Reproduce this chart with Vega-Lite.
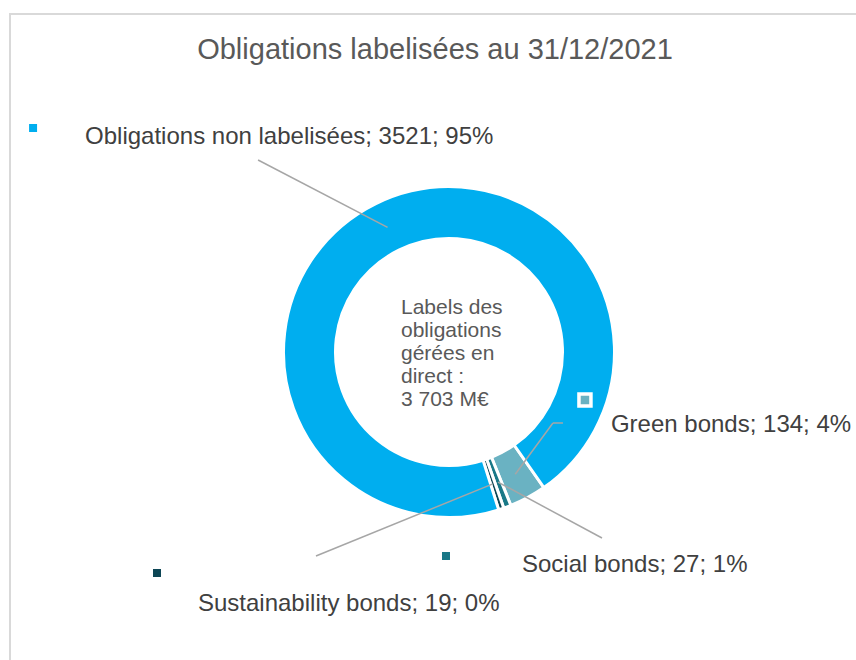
{
  "$schema": "https://vega.github.io/schema/vega-lite/v6.json",
  "width": 848,
  "height": 648,
  "autosize": {"type": "none"},
  "padding": {"left": 10, "top": 14, "right": -2, "bottom": -2},
  "background": "white",
  "title": {
    "text": "Obligations labelisées au 31/12/2021",
    "font": "Liberation Sans",
    "fontSize": 29,
    "fontWeight": "normal",
    "color": "#595959",
    "anchor": "middle",
    "offset": -51,
    "dx": 1
  },
  "config": {
    "view": {"stroke": "#D9D9D9", "strokeWidth": 2},
    "text": {"font": "Liberation Sans"}
  },
  "data": {
    "values": [
      {"nom": "Green bonds", "valeur": 134, "pct": 4, "rang": 1},
      {"nom": "Social bonds", "valeur": 27, "pct": 1, "rang": 2},
      {"nom": "Sustainability bonds", "valeur": 19, "pct": 0, "rang": 3},
      {"nom": "Obligations non labelisées", "valeur": 3521, "pct": 95, "rang": 4}
    ]
  },
  "transform": [
    {"joinaggregate": [{"op": "sum", "field": "valeur", "as": "total"}]},
    {"window": [{"op": "sum", "field": "valeur", "as": "cumul"}], "sort": [{"field": "rang"}], "frame": [null, 0]},
    {"calculate": "2.531 + 2*PI*(datum.cumul - datum.valeur/2)/datum.total", "as": "angle"},
    {"calculate": "139*sin(datum.angle)", "as": "ax"},
    {"calculate": "-139*cos(datum.angle)", "as": "ay"},
    {"calculate": "datum.nom + '; ' + datum.valeur + '; ' + datum.pct + '%'", "as": "etiquette"}
  ],
  "layer": [
    {
      "mark": {"type": "arc", "radius": 165.5, "innerRadius": 113.5, "stroke": "white", "strokeWidth": 3},
      "encoding": {
        "x": {"datum": 0, "type": "quantitative", "scale": {"domain": [-439, 409], "nice": false, "zero": false}, "axis": null},
        "y": {"datum": 0, "type": "quantitative", "scale": {"domain": [-338, 310], "nice": false, "zero": false, "reverse": true}, "axis": null},
        "theta": {"field": "valeur", "type": "quantitative", "stack": true, "scale": {"range": [2.531, 8.8142]}},
        "order": {"field": "rang", "type": "quantitative"},
        "color": {
          "field": "nom", "type": "nominal", "legend": null,
          "scale": {
            "domain": ["Green bonds", "Social bonds", "Sustainability bonds", "Obligations non labelisées"],
            "range": ["#6AB2C2", "#197887", "#0D4655", "#00AEEF"]
          }
        }
      }
    },
    {
      "data": {"values": [{"t": 1}]},
      "mark": {
        "type": "text",
        "text": ["Labels des", "obligations", "gérées en", "direct :", "3 703 M€"],
        "align": "left", "baseline": "middle", "dx": -48, "dy": -44,
        "fontSize": 21, "lineHeight": 23, "color": "#595959"
      },
      "encoding": {
        "x": {"datum": 0, "type": "quantitative", "scale": {"domain": [-439, 409], "nice": false, "zero": false}, "axis": null},
        "y": {"datum": 0, "type": "quantitative", "scale": {"domain": [-338, 310], "nice": false, "zero": false, "reverse": true}, "axis": null}
      }
    },
    {
      "transform": [
        {"filter": "datum.rang == 4"},
        {"calculate": "datum.ax - 129.5", "as": "ex"},
        {"calculate": "datum.ay - 67.3", "as": "ey"},
        {"calculate": "datum.ax - 302.5", "as": "tx"},
        {"calculate": "datum.ay - 90.3", "as": "ty"},
        {"calculate": "datum.ax - 354.5", "as": "kx"},
        {"calculate": "datum.ay - 99.3", "as": "ky"}
      ],
      "layer": [
        {
          "mark": {"type": "rule", "color": "#A6A6A6", "strokeWidth": 1.5},
          "encoding": {
            "x": {"field": "ax", "type": "quantitative", "scale": {"domain": [-439, 409], "nice": false, "zero": false}, "axis": null},
            "y": {"field": "ay", "type": "quantitative", "scale": {"domain": [-338, 310], "nice": false, "zero": false, "reverse": true}, "axis": null},
            "x2": {"field": "ex"},
            "y2": {"field": "ey"}
          }
        },
        {
          "mark": {"type": "point", "shape": "square", "filled": true, "size": 64, "opacity": 1},
          "encoding": {
            "x": {"field": "kx", "type": "quantitative", "scale": {"domain": [-439, 409], "nice": false, "zero": false}, "axis": null},
            "y": {"field": "ky", "type": "quantitative", "scale": {"domain": [-338, 310], "nice": false, "zero": false, "reverse": true}, "axis": null},
            "color": {"field": "nom", "type": "nominal", "legend": null, "scale": {"domain": ["Green bonds", "Social bonds", "Sustainability bonds", "Obligations non labelisées"], "range": ["#6AB2C2", "#197887", "#0D4655", "#00AEEF"]}}
          }
        },
        {
          "mark": {"type": "text", "align": "left", "baseline": "middle", "fontSize": 24, "color": "#404040"},
          "encoding": {
            "x": {"field": "tx", "type": "quantitative", "scale": {"domain": [-439, 409], "nice": false, "zero": false}, "axis": null},
            "y": {"field": "ty", "type": "quantitative", "scale": {"domain": [-338, 310], "nice": false, "zero": false, "reverse": true}, "axis": null},
            "text": {"field": "etiquette", "type": "nominal"}
          }
        }
      ]
    },
    {
      "transform": [
        {"filter": "datum.rang == 1"},
        {"calculate": "datum.ax + 37.7", "as": "bx"},
        {"calculate": "datum.ay - 51.2", "as": "by"},
        {"calculate": "datum.ax + 47.7", "as": "ex"},
        {"calculate": "datum.ax + 95.7", "as": "tx"},
        {"calculate": "datum.ay - 49.2", "as": "ty"},
        {"calculate": "datum.ax + 69.7", "as": "kx"},
        {"calculate": "datum.ay - 74.2", "as": "ky"}
      ],
      "layer": [
        {
          "mark": {"type": "rule", "color": "#A6A6A6", "strokeWidth": 1.5},
          "encoding": {
            "x": {"field": "ax", "type": "quantitative", "scale": {"domain": [-439, 409], "nice": false, "zero": false}, "axis": null},
            "y": {"field": "ay", "type": "quantitative", "scale": {"domain": [-338, 310], "nice": false, "zero": false, "reverse": true}, "axis": null},
            "x2": {"field": "bx"},
            "y2": {"field": "by"}
          }
        },
        {
          "mark": {"type": "rule", "color": "#A6A6A6", "strokeWidth": 1.5},
          "encoding": {
            "x": {"field": "bx", "type": "quantitative", "scale": {"domain": [-439, 409], "nice": false, "zero": false}, "axis": null},
            "y": {"field": "by", "type": "quantitative", "scale": {"domain": [-338, 310], "nice": false, "zero": false, "reverse": true}, "axis": null},
            "x2": {"field": "ex"},
            "y2": {"field": "by"}
          }
        },
        {
          "mark": {"type": "point", "shape": "square", "filled": true, "size": 144, "opacity": 1, "stroke": "white", "strokeWidth": 3.5},
          "encoding": {
            "x": {"field": "kx", "type": "quantitative", "scale": {"domain": [-439, 409], "nice": false, "zero": false}, "axis": null},
            "y": {"field": "ky", "type": "quantitative", "scale": {"domain": [-338, 310], "nice": false, "zero": false, "reverse": true}, "axis": null},
            "color": {"field": "nom", "type": "nominal", "legend": null, "scale": {"domain": ["Green bonds", "Social bonds", "Sustainability bonds", "Obligations non labelisées"], "range": ["#6AB2C2", "#197887", "#0D4655", "#00AEEF"]}}
          }
        },
        {
          "mark": {"type": "text", "align": "left", "baseline": "middle", "fontSize": 24, "color": "#404040"},
          "encoding": {
            "x": {"field": "tx", "type": "quantitative", "scale": {"domain": [-439, 409], "nice": false, "zero": false}, "axis": null},
            "y": {"field": "ty", "type": "quantitative", "scale": {"domain": [-338, 310], "nice": false, "zero": false, "reverse": true}, "axis": null},
            "text": {"field": "etiquette", "type": "nominal"}
          }
        }
      ]
    },
    {
      "transform": [
        {"filter": "datum.rang == 2"},
        {"calculate": "datum.ax + 104", "as": "ex"},
        {"calculate": "datum.ay + 55.9", "as": "ey"},
        {"calculate": "datum.ax + 24", "as": "tx"},
        {"calculate": "datum.ay + 82.9", "as": "ty"},
        {"calculate": "datum.ax - 52", "as": "kx"},
        {"calculate": "datum.ay + 73.9", "as": "ky"}
      ],
      "layer": [
        {
          "mark": {"type": "rule", "color": "#A6A6A6", "strokeWidth": 1.5},
          "encoding": {
            "x": {"field": "ax", "type": "quantitative", "scale": {"domain": [-439, 409], "nice": false, "zero": false}, "axis": null},
            "y": {"field": "ay", "type": "quantitative", "scale": {"domain": [-338, 310], "nice": false, "zero": false, "reverse": true}, "axis": null},
            "x2": {"field": "ex"},
            "y2": {"field": "ey"}
          }
        },
        {
          "mark": {"type": "point", "shape": "square", "filled": true, "size": 64, "opacity": 1},
          "encoding": {
            "x": {"field": "kx", "type": "quantitative", "scale": {"domain": [-439, 409], "nice": false, "zero": false}, "axis": null},
            "y": {"field": "ky", "type": "quantitative", "scale": {"domain": [-338, 310], "nice": false, "zero": false, "reverse": true}, "axis": null},
            "color": {"field": "nom", "type": "nominal", "legend": null, "scale": {"domain": ["Green bonds", "Social bonds", "Sustainability bonds", "Obligations non labelisées"], "range": ["#6AB2C2", "#197887", "#0D4655", "#00AEEF"]}}
          }
        },
        {
          "mark": {"type": "text", "align": "left", "baseline": "middle", "fontSize": 24, "color": "#404040"},
          "encoding": {
            "x": {"field": "tx", "type": "quantitative", "scale": {"domain": [-439, 409], "nice": false, "zero": false}, "axis": null},
            "y": {"field": "ty", "type": "quantitative", "scale": {"domain": [-338, 310], "nice": false, "zero": false, "reverse": true}, "axis": null},
            "text": {"field": "etiquette", "type": "nominal"}
          }
        }
      ]
    },
    {
      "transform": [
        {"filter": "datum.rang == 3"},
        {"calculate": "datum.ax - 176.9", "as": "ex"},
        {"calculate": "datum.ay + 72.1", "as": "ey"},
        {"calculate": "datum.ax - 294.9", "as": "tx"},
        {"calculate": "datum.ay + 120.1", "as": "ty"},
        {"calculate": "datum.ax - 335.9", "as": "kx"},
        {"calculate": "datum.ay + 89.1", "as": "ky"}
      ],
      "layer": [
        {
          "mark": {"type": "rule", "color": "#A6A6A6", "strokeWidth": 1.5},
          "encoding": {
            "x": {"field": "ax", "type": "quantitative", "scale": {"domain": [-439, 409], "nice": false, "zero": false}, "axis": null},
            "y": {"field": "ay", "type": "quantitative", "scale": {"domain": [-338, 310], "nice": false, "zero": false, "reverse": true}, "axis": null},
            "x2": {"field": "ex"},
            "y2": {"field": "ey"}
          }
        },
        {
          "mark": {"type": "point", "shape": "square", "filled": true, "size": 64, "opacity": 1},
          "encoding": {
            "x": {"field": "kx", "type": "quantitative", "scale": {"domain": [-439, 409], "nice": false, "zero": false}, "axis": null},
            "y": {"field": "ky", "type": "quantitative", "scale": {"domain": [-338, 310], "nice": false, "zero": false, "reverse": true}, "axis": null},
            "color": {"field": "nom", "type": "nominal", "legend": null, "scale": {"domain": ["Green bonds", "Social bonds", "Sustainability bonds", "Obligations non labelisées"], "range": ["#6AB2C2", "#197887", "#0D4655", "#00AEEF"]}}
          }
        },
        {
          "mark": {"type": "text", "align": "left", "baseline": "middle", "fontSize": 24, "color": "#404040"},
          "encoding": {
            "x": {"field": "tx", "type": "quantitative", "scale": {"domain": [-439, 409], "nice": false, "zero": false}, "axis": null},
            "y": {"field": "ty", "type": "quantitative", "scale": {"domain": [-338, 310], "nice": false, "zero": false, "reverse": true}, "axis": null},
            "text": {"field": "etiquette", "type": "nominal"}
          }
        }
      ]
    }
  ]
}
